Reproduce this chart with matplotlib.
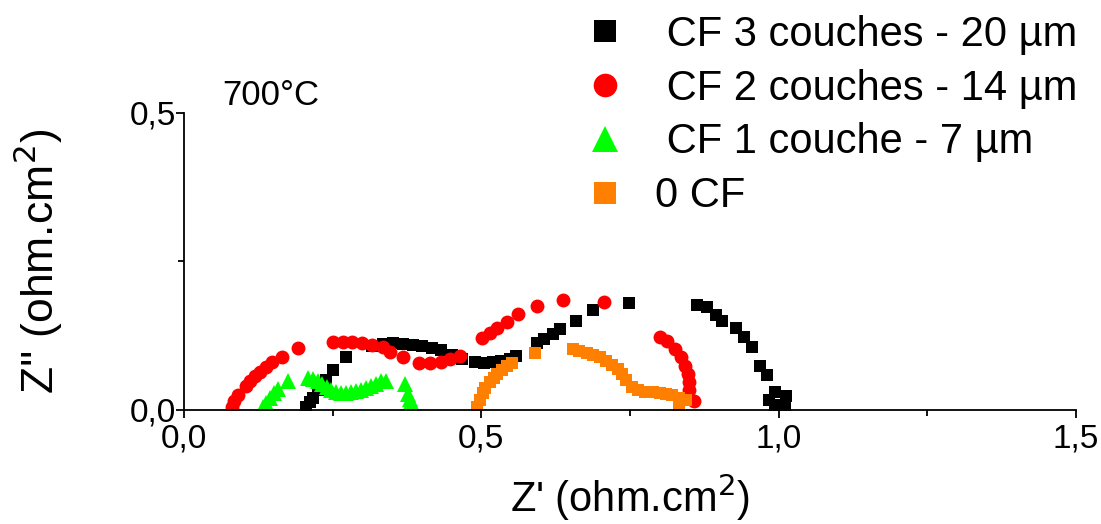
import matplotlib
matplotlib.use("Agg")
import matplotlib.pyplot as plt
from matplotlib.ticker import MultipleLocator, FuncFormatter

plt.rcParams['font.family'] = ['Liberation Sans', 'DejaVu Sans']

# Nyquist data (Z', Z'') in ohm.cm2
cf3_x = [0.205, 0.212, 0.217, 0.225, 0.239, 0.250, 0.272, 0.316, 0.334, 0.351,
         0.368, 0.385, 0.400, 0.417, 0.432, 0.450, 0.467, 0.489, 0.504, 0.519,
         0.533, 0.548, 0.559, 0.593, 0.606, 0.620, 0.633, 0.660, 0.687, 0.748,
         0.863, 0.879, 0.895, 0.905, 0.929, 0.942, 0.956, 0.968, 0.981, 0.993,
         1.013, 0.984, 1.010, 0.993]
cf3_y = [0.005, 0.013, 0.020, 0.034, 0.051, 0.067, 0.089, 0.108, 0.111, 0.113,
         0.111, 0.109, 0.108, 0.104, 0.101, 0.093, 0.086, 0.081, 0.079, 0.081,
         0.082, 0.086, 0.091, 0.113, 0.120, 0.128, 0.136, 0.150, 0.168, 0.180,
         0.177, 0.173, 0.160, 0.150, 0.138, 0.123, 0.106, 0.074, 0.059, 0.030,
         0.024, 0.017, 0.008, 0.008]

cf2_x = [0.081, 0.084, 0.091, 0.104, 0.111, 0.119, 0.128, 0.138, 0.148, 0.165,
         0.192, 0.250, 0.267, 0.282, 0.299, 0.316, 0.334, 0.346, 0.368, 0.396,
         0.413, 0.432, 0.447, 0.464, 0.501, 0.514, 0.526, 0.543, 0.561, 0.593,
         0.637, 0.707, 0.800, 0.813, 0.826, 0.835, 0.842, 0.847, 0.850, 0.850,
         0.858]
cf2_y = [0.005, 0.015, 0.025, 0.040, 0.049, 0.057, 0.064, 0.072, 0.081, 0.089,
         0.104, 0.114, 0.114, 0.114, 0.113, 0.109, 0.106, 0.098, 0.089, 0.079,
         0.079, 0.081, 0.086, 0.091, 0.121, 0.130, 0.138, 0.148, 0.162, 0.175,
         0.185, 0.182, 0.123, 0.116, 0.103, 0.089, 0.074, 0.061, 0.047, 0.034,
         0.015]

cf1_x = [0.133, 0.138, 0.144, 0.151, 0.158, 0.175, 0.208, 0.217, 0.225, 0.232,
         0.240, 0.247, 0.255, 0.264, 0.272, 0.281, 0.289, 0.297, 0.306, 0.314,
         0.323, 0.331, 0.339, 0.371, 0.376, 0.380, 0.381]
cf1_y = [0.005, 0.012, 0.020, 0.029, 0.035, 0.049, 0.054, 0.052, 0.049, 0.044,
         0.039, 0.034, 0.030, 0.029, 0.029, 0.030, 0.032, 0.034, 0.037, 0.040,
         0.044, 0.049, 0.049, 0.044, 0.027, 0.019, 0.013]

cf0_x = [0.492, 0.497, 0.502, 0.507, 0.514, 0.521, 0.527, 0.534, 0.543, 0.551,
         0.591, 0.655, 0.665, 0.677, 0.687, 0.699, 0.709, 0.719, 0.729, 0.737,
         0.744, 0.753, 0.764, 0.776, 0.788, 0.800, 0.811, 0.821, 0.833, 0.845,
         0.833]
cf0_y = [0.005, 0.017, 0.029, 0.037, 0.047, 0.054, 0.061, 0.067, 0.074, 0.079,
         0.096, 0.103, 0.099, 0.096, 0.093, 0.089, 0.082, 0.076, 0.069, 0.061,
         0.051, 0.039, 0.034, 0.030, 0.030, 0.029, 0.027, 0.025, 0.020, 0.017,
         0.008]

labels = [' CF 3 couches - 20 µm', ' CF 2 couches - 14 µm', ' CF 1 couche - 7 µm', '0 CF']

fig = plt.figure(figsize=(11.01, 5.24), dpi=100)
ax = fig.add_axes([0.1671, 0.2176, 0.8102, 0.5668])

ax.plot(cf3_x, cf3_y, 's', color='black', ms=9, mew=0, label=labels[0])
ax.plot(cf2_x, cf2_y, 'o', color='#ff0000', ms=10, mew=0, label=labels[1])
ax.plot(cf1_x, cf1_y, '^', color='#00ff00', ms=11, mew=0, label=labels[2])
ax.plot(cf0_x, cf0_y, 's', color='#ff8000', ms=9, mew=0, label=labels[3])

ax.set_xlim(0, 1.5)
ax.set_ylim(0, 0.5)
for s in ['top', 'right']:
    ax.spines[s].set_visible(False)
for s in ['left', 'bottom']:
    ax.spines[s].set_linewidth(1.3)

comma = FuncFormatter(lambda v, p: f"{v:.1f}".replace('.', ','))
ax.xaxis.set_major_locator(MultipleLocator(0.5))
ax.xaxis.set_minor_locator(MultipleLocator(0.25))
ax.yaxis.set_major_locator(MultipleLocator(0.5))
ax.yaxis.set_minor_locator(MultipleLocator(0.25))
ax.xaxis.set_major_formatter(comma)
ax.yaxis.set_major_formatter(comma)
ax.tick_params(which='major', direction='out', length=6, width=1.3, labelsize=24, pad=4)
ax.tick_params(which='minor', direction='out', length=4, width=1.3)
ax.tick_params(axis='y', which='major', pad=0)

ax.set_xlabel("Z' (ohm.cm$^2$)", fontsize=30, labelpad=12)
ax.set_ylabel("Z'' (ohm.cm$^2$)", fontsize=32, labelpad=46)

ax.text(0.064, 0.513, '700°C', fontsize=25, ha='left', va='baseline', clip_on=False)

ax.legend(loc='upper left', bbox_to_anchor=(584 / 1101, 1 - 15 / 524),
          bbox_transform=fig.transFigure, frameon=False, fontsize=30,
          handlelength=1.0, handletextpad=0.7, labelspacing=0.33,
          borderpad=0, borderaxespad=0, markerscale=1.7)

fig.savefig('out.png', dpi=100)
